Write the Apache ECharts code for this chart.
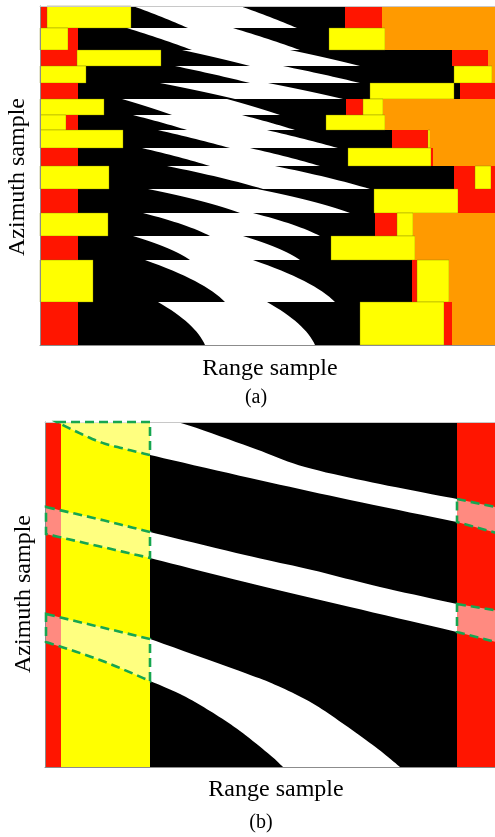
<!DOCTYPE html>
<html><head><meta charset="utf-8">
<script src="https://cdn.jsdelivr.net/npm/echarts@6/dist/echarts.min.js"></script>
<style>html,body{margin:0;padding:0;background:#fff}#c{width:495px;height:837px}</style>
</head><body><div id="c"></div>
<script>
// ---------- Panel (a): range x azimuth blocks ----------
const rowEdgesA = [0,22,44,60,77,93,109,124,142,160,183,207,230,254,296,339];
// [row, rangeStart, rangeEnd, colourCode]
const leftBlocksA = [
  [0,0,7,'R'],[0,7,91,'Y'],
  [1,0,28,'Y'],[1,28,38,'R'],
  [2,0,37,'R'],[2,37,121,'Y'],
  [3,0,46,'Y'],
  [4,0,38,'R'],
  [5,0,64,'Y'],
  [6,0,26,'Y'],[6,26,38,'R'],
  [7,0,83,'Y'],
  [8,0,38,'R'],
  [9,0,69,'Y'],
  [10,0,38,'R'],
  [11,0,68,'Y'],
  [12,0,38,'R'],
  [13,0,53,'Y'],
  [14,0,38,'R']
];
const rightBlocksA = [
  [0,305,342,'R'],[0,342,455,'O'],
  [1,289,345,'Y'],[1,345,455,'O'],
  [2,412,448,'R'],[2,448,455,'O'],
  [3,414,452,'Y'],[3,452,455,'O'],
  [4,330,414,'Y'],[4,420,455,'R'],
  [5,306,323,'R'],[5,323,343,'Y'],[5,343,455,'O'],
  [6,286,345,'Y'],[6,345,455,'O'],
  [7,352,388,'R'],[7,388,390,'Y'],[7,390,455,'O'],
  [8,308,391,'Y'],[8,391,393,'R'],[8,393,455,'O'],
  [9,414,435,'R'],[9,435,451,'Y'],[9,451,455,'R'],
  [10,334,418,'Y'],[10,418,455,'R'],
  [11,335,357,'R'],[11,357,373,'Y'],[11,373,455,'O'],
  [12,291,375,'Y'],[12,375,455,'O'],
  [13,372,377,'R'],[13,377,409,'Y'],[13,409,455,'O'],
  [14,320,404,'Y'],[14,404,412,'R'],[14,412,455,'O']
];
// white slanted segment in each row: top-left, top-right, bottom-left, bottom-right range
const whiteTL = [93,87,142,135,120,82,93,118,102,127,108,103,93,105,118];
const whiteTR = [200,193,250,243,228,187,202,227,210,235,217,213,203,213,227];
const whiteBL = [148,152,210,210,195,132,147,190,170,223,200,170,150,185,165];
const whiteBR = [257,260,320,320,303,240,255,298,280,330,310,280,260,295,275];
const whiteBend = [0.1,0.1,0.1,0.1,0.1,0.1,0.1,0.1,0.15,0.2,0.3,0.35,0.4,0.5,0.6];

// ---------- Panel (b) ----------
const stripsB = [[0,16,'R'],[16,105,'Y'],[105,412,'K'],[412,450,'R']];
const boxRangeB = [105,412];
const stripeUpperB = [
  [[12,0],[105,0],[132,0],[205,25],[260,45],[335,62],[412,77],[455,86]],
  [[1,85],[53,97],[105,110],[200,133],[267,148],[335,165],[412,182],[455,189]],
  [[1,192],[105,217],[200,251],[233,264],[267,281],[300,303],[333,327],[355,345]]
];
const stripeLowerB = [
  [[12,0],[30,9],[55,20],[80,27],[105,33],[205,56],[305,78],[412,100],[455,112]],
  [[1,112],[53,124],[105,136],[200,160],[305,185],[412,210],[455,221]],
  [[1,220],[55,238],[105,259],[135,272],[165,289],[195,309],[225,333],[238,345]]
];

const COLORS = {R:'#ff1500', Y:'#ffff00', O:'#ff9a00', K:'#000000'};

const blocksA = leftBlocksA.concat(rightBlocksA);

function rectRender(src, outlineYellow){
  return function(params, api){
    const p0 = api.coord([api.value(0), api.value(2)]);
    const p1 = api.coord([api.value(1), api.value(3)]);
    const code = src[params.dataIndex][3];
    const style = {fill:COLORS[code]};
    if (outlineYellow && code==='Y'){ style.stroke = 'rgba(120,120,0,0.6)'; style.lineWidth = 0.6; }
    return {type:'rect',
      shape:{x:Math.min(p0[0],p1[0]), y:Math.min(p0[1],p1[1]), width:Math.abs(p1[0]-p0[0]), height:Math.abs(p1[1]-p0[1])},
      style:style};
  };
}

function bendF(t,c){ return (1-c)*t + c*(1-(1-t)*(1-t)); }

function whiteRender(params, api){
  const i = params.dataIndex;
  const y0 = rowEdgesA[i], y1 = rowEdgesA[i+1];
  const c = whiteBend[i];
  const N = 16, left = [], right = [];
  for (let k=0;k<=N;k++){
    const t = k/N, y = y0 + t*(y1-y0), f = bendF(t,c);
    left.push(api.coord([whiteTL[i] + (whiteBL[i]-whiteTL[i])*f, y]));
    right.push(api.coord([whiteTR[i] + (whiteBR[i]-whiteTR[i])*f, y]));
  }
  return {type:'polygon', shape:{points:left.concat(right.reverse())}, style:{fill:'#ffffff'}};
}

// Catmull-Rom smoothing of an edge (pixel points), for drawing smooth curves
function smoothPath(pts){
  if (pts.length < 3) return pts;
  const out = [];
  for (let i=0;i<pts.length-1;i++){
    const p0 = pts[Math.max(0,i-1)], p1 = pts[i], p2 = pts[i+1], p3 = pts[Math.min(pts.length-1,i+2)];
    const S = 10;
    for (let s=0;s<S;s++){
      const t = s/S, t2=t*t, t3=t2*t;
      out.push([
        0.5*((2*p1[0]) + (-p0[0]+p2[0])*t + (2*p0[0]-5*p1[0]+4*p2[0]-p3[0])*t2 + (-p0[0]+3*p1[0]-3*p2[0]+p3[0])*t3),
        0.5*((2*p1[1]) + (-p0[1]+p2[1])*t + (2*p0[1]-5*p1[1]+4*p2[1]-p3[1])*t2 + (-p0[1]+3*p1[1]-3*p2[1]+p3[1])*t3)
      ]);
    }
  }
  out.push(pts[pts.length-1]);
  return out;
}

function stripePart(idx, lo, hi){
  const up = stripeUpperB[idx].filter(p=>p[0]>=lo && p[0]<=hi);
  const dn = stripeLowerB[idx].filter(p=>p[0]>=lo && p[0]<=hi);
  return {up, dn};
}

function partPolygon(part, api){
  const up = smoothPath(part.up.map(p=>api.coord(p)));
  const dn = smoothPath(part.dn.map(p=>api.coord(p)));
  return up.concat(dn.reverse());
}

function stripeMidRender(params, api){
  const part = stripePart(params.dataIndex, boxRangeB[0], boxRangeB[1]);
  return {type:'polygon', shape:{points:partPolygon(part, api)}, style:{fill:'#ffffff'}};
}

// boxes: data [stripeIndex, side]
const boxesB = [[0,0],[0,1],[1,0],[1,1],[2,0]];
function boxRender(params, api){
  const b = boxesB[params.dataIndex];
  const part = b[1]===0 ? stripePart(b[0], -100, boxRangeB[0]) : stripePart(b[0], boxRangeB[1], 1000);
  return {type:'polygon', shape:{points:partPolygon(part, api)},
    style:{fill:'rgba(255,255,255,0.5)', stroke:'#16a650', lineWidth:2.6, lineDash:[9,5]}};
}

const axisCommon = {type:'value', axisTick:{show:false}, axisLabel:{show:false}, splitLine:{show:false}, z:10};
function ax(extra){ return Object.assign({}, axisCommon, extra); }

const chart = echarts.init(document.getElementById('c'), null, {renderer:'canvas'});
const font = '"Liberation Serif", "Times New Roman", serif';
chart.setOption({
  animation:false,
  backgroundColor:'#ffffff',
  grid:[
    {left:40, top:6, width:455, height:339},
    {left:45, top:422, width:450, height:345}
  ],
  xAxis:[
    ax({gridIndex:0, min:0, max:455, position:'bottom', axisLine:{show:true, onZero:false, lineStyle:{color:'#8c8c8c'}}}),
    ax({gridIndex:0, min:0, max:455, position:'top', axisLine:{show:true, onZero:false, lineStyle:{color:'#c8c8c8'}}}),
    ax({gridIndex:1, min:0, max:450, position:'bottom', axisLine:{show:true, onZero:false, lineStyle:{color:'#8c8c8c'}}}),
    ax({gridIndex:1, min:0, max:450, position:'top', axisLine:{show:true, onZero:false, lineStyle:{color:'#c8c8c8'}}})
  ],
  yAxis:[
    ax({gridIndex:0, min:0, max:339, inverse:true, axisLine:{show:true, onZero:false, lineStyle:{color:'#8c8c8c'}}}),
    ax({gridIndex:1, min:0, max:345, inverse:true, axisLine:{show:true, onZero:false, lineStyle:{color:'#8c8c8c'}}})
  ],
  series:[
    {type:'custom', xAxisIndex:0, yAxisIndex:0, z:1, silent:true,
     renderItem:function(params, api){
       const p0 = api.coord([0,0]), p1 = api.coord([455,339]);
       return {type:'rect', shape:{x:p0[0], y:p0[1], width:p1[0]-p0[0], height:p1[1]-p0[1]}, style:{fill:'#000'}};
     }, data:[[0,0]]},
    {type:'custom', xAxisIndex:0, yAxisIndex:0, z:2, silent:true,
     renderItem:whiteRender, data:whiteTL.map((v,i)=>[v, rowEdgesA[i]])},
    {type:'custom', xAxisIndex:0, yAxisIndex:0, z:3, silent:true,
     renderItem:rectRender(blocksA, true),
     data:blocksA.map(b=>[b[1], b[2], rowEdgesA[b[0]], rowEdgesA[b[0]+1]])},
    {type:'custom', xAxisIndex:2, yAxisIndex:1, z:1, silent:true,
     renderItem:rectRender(stripsB.map(s=>[0,s[0],s[1],s[2]]), false),
     data:stripsB.map(s=>[s[0], s[1], 0, 345])},
    {type:'custom', xAxisIndex:2, yAxisIndex:1, z:2, silent:true,
     renderItem:stripeMidRender, data:stripeUpperB.map((s,i)=>[i,0])},
    {type:'custom', xAxisIndex:2, yAxisIndex:1, z:12, silent:true,
     renderItem:boxRender, data:boxesB.map(b=>[b[0],b[1]])}
  ],
  graphic:[
    {type:'text', x:270, y:369, style:{text:'Range sample', font:'24px '+font, fill:'#000', textAlign:'center', textVerticalAlign:'middle'}},
    {type:'text', x:256, y:398, style:{text:'(a)', font:'20px '+font, fill:'#000', textAlign:'center', textVerticalAlign:'middle'}},
    {type:'text', x:18, y:177, rotation:Math.PI/2, style:{text:'Azimuth sample', font:'24px '+font, fill:'#000', textAlign:'center', textVerticalAlign:'middle'}},
    {type:'text', x:276, y:790, style:{text:'Range sample', font:'24px '+font, fill:'#000', textAlign:'center', textVerticalAlign:'middle'}},
    {type:'text', x:261, y:823, style:{text:'(b)', font:'20px '+font, fill:'#000', textAlign:'center', textVerticalAlign:'middle'}},
    {type:'text', x:24, y:594, rotation:Math.PI/2, style:{text:'Azimuth sample', font:'24px '+font, fill:'#000', textAlign:'center', textVerticalAlign:'middle'}}
  ]
});
</script>
</body></html>
